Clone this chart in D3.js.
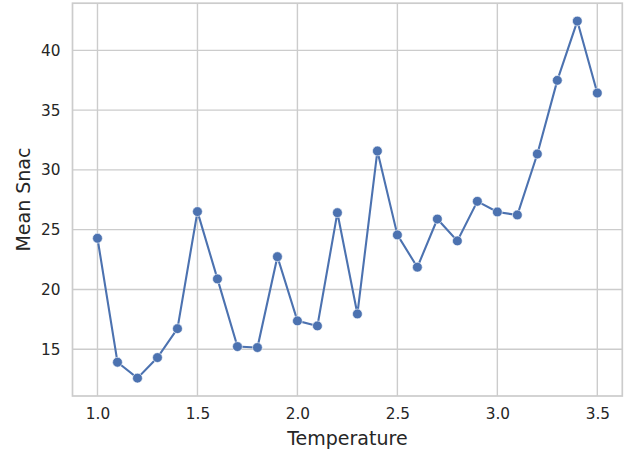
<!DOCTYPE html>
<html><head><meta charset="utf-8">
<script src="https://cdn.jsdelivr.net/npm/d3@7"></script>
<style>body{margin:0;background:#fff}svg{display:block}text{font-family:"DejaVu Sans",sans-serif;fill:#262626}</style>
</head><body><svg id="c" width="631" height="452"></svg>
<script>
const temperatures = [1.0,1.1,1.2,1.3,1.4,1.5,1.6,1.7,1.8,1.9,2.0,2.1,2.2,2.3,2.4,2.5,2.6,2.7,2.8,2.9,3.0,3.1,3.2,3.3,3.4,3.5];
const meanSnac = [24.28,13.91,12.58,14.30,16.72,26.51,20.88,15.22,15.14,22.74,17.37,16.95,26.42,17.95,31.58,24.56,21.86,25.89,24.06,27.37,26.48,26.23,31.33,37.49,42.45,36.43];
const xTicks = [1.0,1.5,2.0,2.5,3.0,3.5];
const yTicks = [15,20,25,30,35,40];
const xLabel = "Temperature";
const yLabel = "Mean Snac";

const svg = d3.select("#c");
const L = 72.5, R = 622.3, T = 3.2, B = 396;
const xmin = d3.min(temperatures), xmax = d3.max(temperatures);
const ymin = d3.min(meanSnac), ymax = d3.max(meanSnac);
const xp = (xmax - xmin) * 0.05, yp = (ymax - ymin) * 0.05;
const x = d3.scaleLinear().domain([xmin - xp, xmax + xp]).range([L, R]);
const y = d3.scaleLinear().domain([ymin - yp, ymax + yp]).range([B, T]);

// grid
const g = svg.append("g");
g.selectAll(".vg").data(xTicks).join("line")
  .attr("x1", d => x(d)).attr("x2", d => x(d)).attr("y1", T).attr("y2", B)
  .attr("stroke", "#cccccc").attr("stroke-width", 1.4);
g.selectAll(".hg").data(yTicks).join("line")
  .attr("x1", L).attr("x2", R).attr("y1", d => y(d)).attr("y2", d => y(d))
  .attr("stroke", "#cccccc").attr("stroke-width", 1.4);

// axes (labels only, no tick marks)
const xa = svg.append("g").attr("transform", `translate(0,${B})`)
  .call(d3.axisBottom(x).tickValues(xTicks).tickFormat(d3.format(".1f")).tickSize(0).tickPadding(12));
const ya = svg.append("g").attr("transform", `translate(${L},0)`)
  .call(d3.axisLeft(y).tickValues(yTicks).tickFormat(d3.format("d")).tickSize(0).tickPadding(12));
[xa, ya].forEach(a => {
  a.select(".domain").remove();
  a.selectAll("text").attr("font-size", "15.3px").attr("font-family", "DejaVu Sans").attr("fill", "#262626");
});

// spines
svg.append("rect").attr("x", L).attr("y", T).attr("width", R - L).attr("height", B - T)
  .attr("fill", "none").attr("stroke", "#cccccc").attr("stroke-width", 1.7);

// line + markers
const color = "#4c72b0";
const pts = temperatures.map((t, i) => [t, meanSnac[i]]);
svg.append("path").datum(pts)
  .attr("d", d3.line().x(d => x(d[0])).y(d => y(d[1])))
  .attr("fill", "none").attr("stroke", color).attr("stroke-width", 2.1);
svg.selectAll(".pt").data(pts).join("circle")
  .attr("cx", d => x(d[0])).attr("cy", d => y(d[1])).attr("r", 4.9)
  .attr("fill", color).attr("stroke", "#fff").attr("stroke-width", 0.6);

// axis labels
svg.append("text").attr("x", (L + R) / 2).attr("y", 445).attr("text-anchor", "middle")
  .attr("font-size", "19px").text(xLabel);
svg.append("text").attr("transform", `translate(30,${(T + B) / 2}) rotate(-90)`)
  .attr("text-anchor", "middle").attr("font-size", "19px").text(yLabel);
</script></body></html>
